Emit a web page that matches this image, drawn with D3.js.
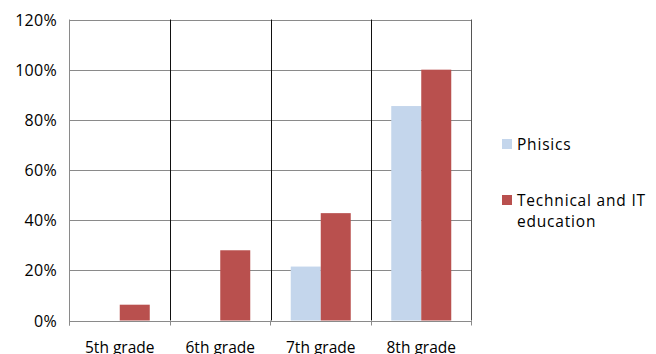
<!DOCTYPE html>
<html><head><meta charset="utf-8">
<script src="https://cdn.jsdelivr.net/npm/d3@7"></script>
<style>body{margin:0;background:#fff}svg{display:block}text{font-family:"Open Sans",sans-serif;fill:#000}</style>
</head><body><svg id="c" width="656" height="354"></svg>
<script>
const categories = ["5th grade","6th grade","7th grade","8th grade"];
const seriesNames = ["Phisics","Technical and IT education"];
const phisics = [0, 0, 21.5, 85.5];
const technical = [6.3, 28, 42.8, 100];
const yTicks = [0,20,40,60,80,100,120];
const colors = ["#C4D6EC","#B9504E"];

const svg = d3.select("#c");
const x0 = 69.5, x1 = 471.5, yTop = 19.5, yBot = 320.5;
const x = d3.scaleBand().domain(categories).range([x0,x1]);
const y = d3.scaleLinear().domain([0,120]).range([yBot,yTop]);
const xs = d3.scaleBand().domain([0,1]).range([0, 60]);

// horizontal gridlines
svg.append("g").selectAll("line").data(yTicks).join("line")
  .attr("x1",x0).attr("x2",x1).attr("y1",d=>Math.round(y(d))+0.5).attr("y2",d=>Math.round(y(d))+0.5)
  .attr("stroke","#8a8a8a").attr("stroke-width",1);

// bars
const series = [phisics, technical];
series.forEach((vals,si)=>{
  svg.append("g").selectAll("rect").data(categories.map((c,i)=>({c,v:vals[i]}))).join("rect")
    .attr("x",d=>x(d.c)+x.bandwidth()/2-30+xs(si))
    .attr("width",xs.bandwidth())
    .attr("y",d=>y(d.v)).attr("height",d=>y(0)-y(d.v))
    .attr("fill",colors[si]);
});

// vertical separators
const bounds = categories.slice(1).map(c=>x(c));
svg.append("g").selectAll("line").data(bounds).join("line")
  .attr("x1",d=>Math.round(d)+0.5).attr("x2",d=>Math.round(d)+0.5).attr("y1",yTop).attr("y2",yBot)
  .attr("stroke","#111").attr("stroke-width",1);
// right border
svg.append("line").attr("x1",x1).attr("x2",x1).attr("y1",yTop).attr("y2",yBot).attr("stroke","#555");
// left axis
svg.append("line").attr("x1",x0).attr("x2",x0).attr("y1",yTop).attr("y2",yBot+5).attr("stroke","#8a8a8a");
// bottom tick marks
const tickXs = [x0, ...bounds, x1];
svg.append("g").selectAll("line").data(tickXs).join("line")
  .attr("x1",d=>Math.round(d-0.5)+0.5).attr("x2",d=>Math.round(d-0.5)+0.5).attr("y1",yBot).attr("y2",yBot+5)
  .attr("stroke","#8a8a8a");

// y labels
svg.append("g").selectAll("text").data(yTicks).join("text")
  .attr("x",57).attr("y",d=>y(d)+6).attr("text-anchor","end")
  .attr("font-size","16px").attr("letter-spacing","0.3px").text(d=>d+"%");

// x labels
svg.append("g").selectAll("text").data(categories).join("text")
  .attr("x",d=>x(d)+x.bandwidth()/2).attr("y",353).attr("text-anchor","middle")
  .attr("font-size","15.5px").text(d=>d);

// legend
const lg = svg.append("g").attr("font-size","15.5px").attr("letter-spacing","0.8px");
lg.append("rect").attr("x",502).attr("y",139).attr("width",10).attr("height",10).attr("fill",colors[0]);
lg.append("text").attr("x",517).attr("y",150).text(seriesNames[0]);
lg.append("rect").attr("x",502).attr("y",195).attr("width",10).attr("height",10).attr("fill",colors[1]);
lg.append("text").attr("x",517).attr("y",206).text("Technical and IT");
lg.append("text").attr("x",517).attr("y",227).text("education");
</script></body></html>
